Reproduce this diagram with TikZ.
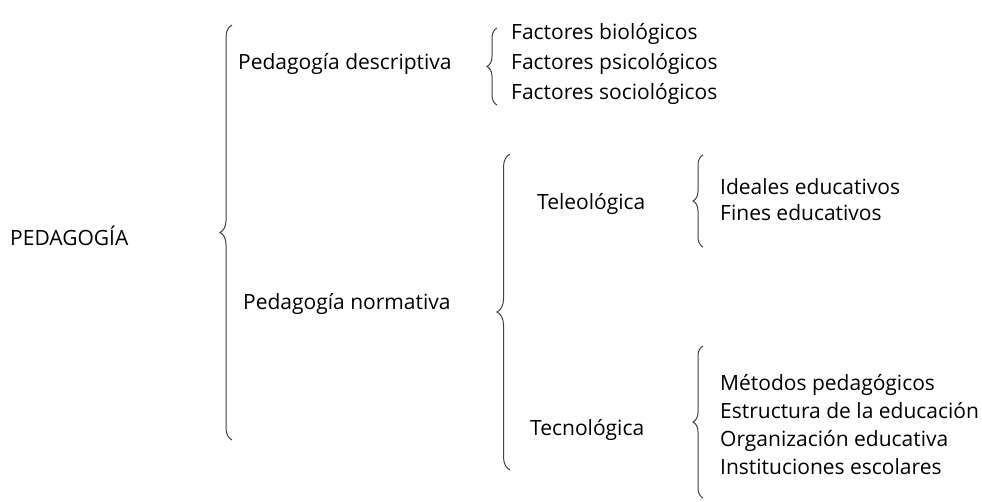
\documentclass[tikz,border=0pt]{standalone}
\usepackage{fontspec}
\setmainfont{Open Sans}
\usepackage{xcolor}
\usetikzlibrary{decorations.pathreplacing}

\begin{document}
\begin{tikzpicture}[x=1pt,y=-1pt,
    txt/.style={anchor=west,inner sep=0pt,text height=17pt,text depth=3pt,
        font=\fontsize{21}{25}\selectfont,text=black},
    brc/.style={decorate,decoration={brace,amplitude=#1},draw=black!75,line width=1pt},
    brc/.default=10]
    \useasboundingbox (0,0) rectangle (982,501);
    % first level
    \node[txt] (ped) at (10,238) {PEDAGOGÍA};
    \draw[brc=12] (232,440) -- (232,25);
    \node[txt] (desc) at (238,62) {Pedagogía descriptiva};
    \node[txt] (norm) at (243,302) {Pedagogía normativa};
    % descriptiva
    \draw[brc=10] (497,105) -- (497,28);
    \node[txt] (bio) at (511,32) {Factores biológicos};
    \node[txt] (psi) at (511,62) {Factores psicológicos};
    \node[txt] (soc) at (511,92) {Factores sociológicos};
    % normativa
    \draw[brc=13] (510,470) -- (510,154);
    \node[txt] (tel) at (537,202) {Teleológica};
    \node[txt] (tec) at (530,428) {Tecnológica};
    % teleologica
    \draw[brc=10] (703,247) -- (703,155);
    \node[txt] (ide) at (720,187) {Ideales educativos};
    \node[txt] (fin) at (720,213) {Fines educativos};
    % tecnologica
    \draw[brc=10] (703,498) -- (703,346);
    \node[txt] (met) at (720,383) {Métodos pedagógicos};
    \node[txt] (est) at (720,411) {Estructura de la educación};
    \node[txt] (org) at (720,439) {Organización educativa};
    \node[txt] (ins) at (720,467) {Instituciones escolares};
\end{tikzpicture}
\end{document}
